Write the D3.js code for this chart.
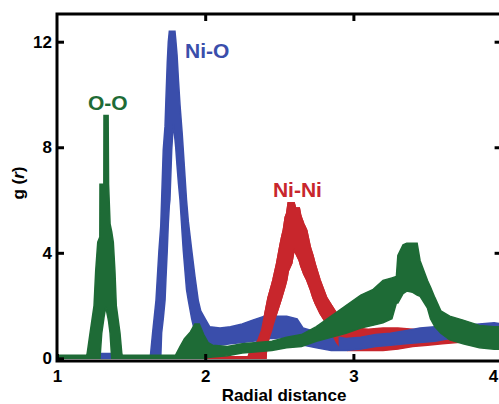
<!DOCTYPE html>
<html lang="en">
<head>
    <meta charset="UTF-8">
    <title>g(r) partial radial distribution</title>
    <script src="https://d3js.org/d3.v7.min.js"></script>
    <style>
        body { margin: 0; background: #fff; }
        svg { display: block; font-family: "Liberation Sans", Arial, sans-serif; font-weight: bold; }
        .tick line { stroke: #000; stroke-width: 3; }
        .tick text { font-size: 17px; font-weight: bold; fill: #000; }
    </style>
</head>
<body>
    <svg id="chart"></svg>

    <script>
        // O-O (green): radial distance, lower and upper edge of the noisy trace
        var ooR  = [1.00, 1.20, 1.204, 1.223, 1.25, 1.261, 1.275, 1.289, 1.29, 1.302, 1.316, 1.317, 1.329, 1.345, 1.348, 1.358, 1.369, 1.38, 1.391, 1.40, 1.425, 1.437, 1.44,
                    1.80, 1.83, 1.86, 1.90, 1.93, 1.96, 1.99, 2.02, 2.05, 2.15, 2.25, 2.35, 2.45, 2.55, 2.65, 2.75, 2.85, 2.95, 3.05, 3.13, 3.20, 3.26, 3.29,
                    3.30, 3.335, 3.36, 3.40, 3.43, 3.45, 3.50, 3.52, 3.55, 3.59, 3.65, 3.74, 3.85, 3.95, 4.00];
        var ooLo = [0, 0, 0, 0, 0, 0, 0, 0, 0, 0.96, 1.5, 1.55, 1.95, 1.5, 1.4, 0.96, 0, 0, 0, 0, 0, 0, 0,
                    0, 0, 0, 0, 0, 0, 0, 0.03, 0.05, 0.1, 0.2, 0.25, 0.3, 0.4, 0.45, 0.65, 0.8, 0.95, 1.15, 1.25, 1.35, 1.5, 2.1,
                    2.1, 2.45, 2.55, 2.5, 2.4, 2.35, 1.9, 1.5, 1.2, 0.95, 0.7, 0.55, 0.4, 0.35, 0.35];
        var ooHi = [0.12, 0.12, 0.2, 0.96, 2.0, 3.3, 4.4, 4.6, 6.6, 6.6, 6.6, 9.2, 9.2, 9.2, 6.6, 5.1, 4.8, 4.4, 3.3, 2.0, 0.96, 0.2, 0.12,
                    0.12, 0.45, 0.75, 1.0, 1.3, 1.3, 0.9, 0.6, 0.5, 0.45, 0.55, 0.6, 0.65, 0.8, 0.9, 1.2, 1.6, 2.0, 2.4, 2.6, 2.95, 3.05, 3.1,
                    3.9, 4.3, 4.36, 4.36, 4.36, 3.7, 2.95, 2.7, 2.3, 1.8, 1.6, 1.45, 1.25, 1.2, 1.2];

        // Ni-O (blue)
        var nioR  = [1.00, 1.24, 1.28, 1.38, 1.41, 1.63, 1.645, 1.668, 1.688, 1.70, 1.706, 1.717, 1.729, 1.735, 1.744, 1.751, 1.758, 1.762, 1.774, 1.785, 1.796,
                     1.801, 1.81, 1.82, 1.83, 1.845, 1.852, 1.874, 1.886, 1.909, 1.931, 1.953, 1.97, 2.00, 2.03, 2.10, 2.17, 2.25, 2.32, 2.40, 2.43, 2.46,
                     2.55, 2.62, 2.66, 2.75, 2.85, 2.95, 3.05, 3.15, 3.25, 3.35, 3.45, 3.55, 3.65, 3.75, 3.85, 3.95, 4.00];
        var nioLo = [0, 0, 0, 0, 0, 0, 0, 0, 0, 0, 0.96, 1.5, 2.2, 3.0, 4.1, 5.1, 5.8, 6.0, 7.9, 8.9, 8.3,
                     8.0, 7.3, 6.6, 6.0, 4.7, 4.1, 2.6, 2.2, 1.5, 0.96, 0.7, 0.6, 0.55, 0.5, 0.5, 0.55, 0.6, 0.65, 0.7, 0.75, 0.75,
                     0.8, 0.75, 0.5, 0.4, 0.3, 0.3, 0.35, 0.45, 0.5, 0.55, 0.6, 0.65, 0.75, 0.8, 0.85, 0.85, 0.85];
        var nioHi = [0.08, 0.08, 0.18, 0.18, 0.08, 0.08, 0.96, 2.2, 4.1, 5.0, 6.0, 7.9, 8.8, 9.8, 11.2, 12.0, 12.4, 12.4, 12.4, 12.4, 12.4,
                     12.1, 11.5, 10.5, 9.6, 8.5, 7.9, 6.0, 5.2, 4.1, 3.1, 2.2, 1.8, 1.5, 1.2, 1.15, 1.2, 1.3, 1.45, 1.6, 1.95, 1.6,
                     1.6, 1.5, 1.15, 1.0, 0.85, 0.75, 0.8, 0.9, 0.95, 1.05, 1.15, 1.2, 1.2, 1.25, 1.3, 1.35, 1.3];

        // Ni-Ni (red)
        var ninR  = [1.00, 2.29, 2.302, 2.336, 2.36, 2.381, 2.403, 2.41, 2.415, 2.424, 2.449, 2.457, 2.482, 2.505, 2.516, 2.527, 2.54, 2.55, 2.56, 2.584, 2.60,
                     2.61, 2.635, 2.645, 2.665, 2.685, 2.71, 2.727, 2.741, 2.775, 2.82, 2.842, 2.887, 2.92, 2.96, 3.0, 3.1, 3.2, 3.3, 3.4, 3.5, 3.6, 3.7, 3.8, 4.0];
        var ninLo = [0, 0, 0, 0, 0, 0, 0, 0, 0.43, 0.65, 1.07, 1.25, 1.7, 2.1, 2.3, 2.5, 2.75, 2.97, 3.3, 3.6, 4.1,
                     4.0, 3.7, 3.5, 3.2, 2.97, 2.6, 2.3, 2.1, 1.7, 1.3, 1.07, 0.6, 0.35, 0.3, 0.3, 0.3, 0.3, 0.35, 0.45, 0.5, 0.55, 0.6, 0.65, 0.65];
        var ninHi = [0.06, 0.06, 0.25, 0.45, 0.75, 1.07, 1.7, 1.9, 2.05, 2.3, 2.8, 2.97, 3.6, 4.3, 4.6, 4.86, 5.35, 5.5, 5.9, 5.9, 5.9,
                     5.7, 5.7, 5.4, 5.1, 4.86, 4.2, 3.9, 3.6, 2.97, 2.3, 2.1, 1.7, 1.4, 1.2, 1.15, 1.1, 1.15, 1.15, 1.1, 1.05, 1.0, 1.0, 1.0, 1.0];

        // peak labels [r, g(r)]
        var seriesNames = ["O-O", "Ni-O", "Ni-Ni"];
        var labelR = [1.209, 1.864, 2.457];
        var labelG = [9.41, 11.38, 6.11];

        var xTicks = [1, 2, 3, 4];
        var yTicks = [0, 4, 8, 12];

        var colors = { "O-O": "#1e6b36", "Ni-O": "#3a4eab", "Ni-Ni": "#c8262c" };

        var width = 499, height = 404;

        var svg = d3.select("#chart")
            .attr("width", width)
            .attr("height", height);

        var x = d3.scaleLinear().domain([1, 4]).range([57, 501.6]);
        var y = d3.scaleLinear().domain([-0.1, 13.05]).range([361, 14]);

        // clip to the plot frame
        var defs = svg.append("defs");
        defs.append("clipPath").attr("id", "plot-clip")
            .append("rect")
            .attr("x", x(1)).attr("y", y(13.05))
            .attr("width", x(4) - x(1)).attr("height", y(-0.1) - y(13.05));
        // Ni-Ni peak is drawn over Ni-O, the tail under it
        defs.append("clipPath").attr("id", "peak-clip")
            .append("rect")
            .attr("x", x(2.25)).attr("y", y(13.05))
            .attr("width", x(2.9) - x(2.25)).attr("height", y(-0.1) - y(13.05));

        function rows(r, lo, hi) {
            return r.map(function(v, i) { return { r: v, lo: lo[i], hi: hi[i] }; });
        }

        var band = d3.area()
            .x(function(d) { return x(d.r); })
            .y0(function(d) { return y(d.lo); })
            .y1(function(d) { return y(d.hi); });

        var plot = svg.append("g").attr("clip-path", "url(#plot-clip)");

        function drawBand(g, data, color) {
            g.append("path")
                .datum(data)
                .attr("d", band)
                .attr("fill", color)
                .attr("stroke", color)
                .attr("stroke-width", 1.5)
                .attr("stroke-linejoin", "miter");
        }

        var ninData = rows(ninR, ninLo, ninHi);
        drawBand(plot, ninData, colors["Ni-Ni"]);
        drawBand(plot, rows(nioR, nioLo, nioHi), colors["Ni-O"]);
        drawBand(plot.append("g").attr("clip-path", "url(#peak-clip)"), ninData, colors["Ni-Ni"]);
        drawBand(plot, rows(ooR, ooLo, ooHi), colors["O-O"]);

        // frame
        svg.append("rect")
            .attr("x", x(1)).attr("y", y(13.05))
            .attr("width", x(4) - x(1)).attr("height", y(-0.1) - y(13.05))
            .attr("fill", "none")
            .attr("stroke", "#000")
            .attr("stroke-width", 3);

        // axes, ticks pointing inward
        var xAxis = svg.append("g")
            .attr("transform", "translate(0," + y(-0.1) + ")")
            .call(d3.axisBottom(x).tickValues(xTicks).tickFormat(d3.format("d"))
                .tickSizeInner(-7).tickSizeOuter(0).tickPadding(9));
        xAxis.select(".domain").remove();
        // last label sits on the window edge; keep it inside
        xAxis.selectAll(".tick text").filter(function(d) { return d === 4; })
            .attr("text-anchor", "end").attr("dx", -4);

        var yAxis = svg.append("g")
            .attr("transform", "translate(" + x(1) + ",0)")
            .call(d3.axisLeft(y).tickValues(yTicks).tickFormat(d3.format("d"))
                .tickSizeInner(-7).tickSizeOuter(0).tickPadding(5));
        yAxis.select(".domain").remove();

        var topAxis = svg.append("g")
            .attr("transform", "translate(0," + y(13.05) + ")")
            .call(d3.axisTop(x).tickValues([2, 3]).tickFormat("").tickSizeInner(-7).tickSizeOuter(0));
        topAxis.select(".domain").remove();

        var rightAxis = svg.append("g")
            .attr("transform", "translate(" + x(4) + ",0)")
            .call(d3.axisRight(y).tickValues([4, 8, 12]).tickFormat("").tickSizeInner(-7).tickSizeOuter(0));
        rightAxis.select(".domain").remove();

        // axis titles
        svg.append("text")
            .attr("x", 284)
            .attr("y", 401)
            .attr("text-anchor", "middle")
            .style("font-size", "17px")
            .text("Radial distance");

        var yTitle = svg.append("text")
            .attr("transform", "translate(24,183) rotate(-90)")
            .attr("text-anchor", "middle")
            .style("font-size", "17px");
        yTitle.append("tspan").text("g (");
        yTitle.append("tspan").style("font-style", "italic").text("r");
        yTitle.append("tspan").text(")");

        // peak labels
        svg.selectAll(".peak-label")
            .data(seriesNames)
            .enter().append("text")
            .attr("class", "peak-label")
            .attr("x", function(d, i) { return x(labelR[i]); })
            .attr("y", function(d, i) { return y(labelG[i]); })
            .attr("fill", function(d) { return colors[d]; })
            .style("font-size", "21px")
            .text(function(d) { return d; });
    </script>
</body>
</html>
